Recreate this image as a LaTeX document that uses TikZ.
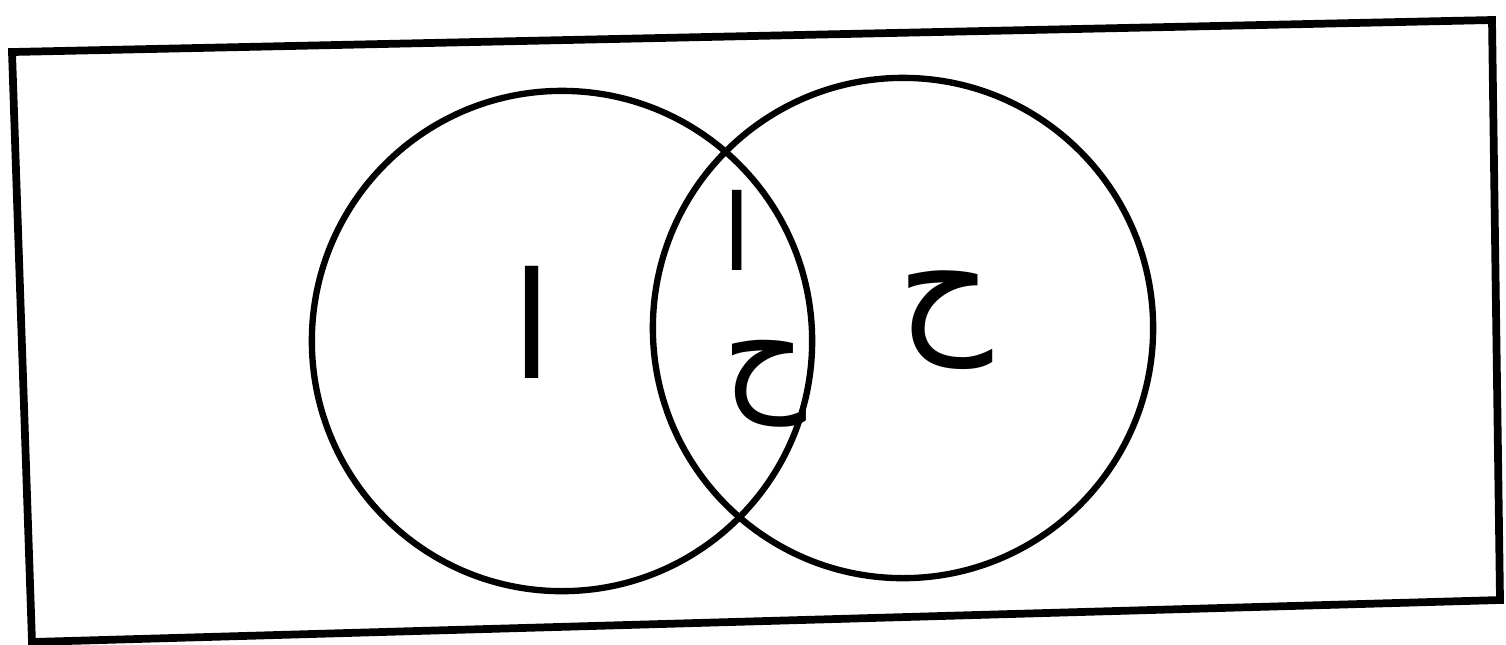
\documentclass[tikz,border=0pt]{standalone}
\usepackage{fontspec}
\newfontfamily\arabicfont[Script=Arabic]{DejaVu Sans}
\TeXXeTstate=1
\tikzset{
  setcircle/.style={draw, circle, line width=1.8pt, minimum size=5cm, inner sep=0pt},
  setlabel/.style={font=\arabicfont\fontsize{#1}{#1}\selectfont, inner sep=0pt},
  setlabel/.default=42
}
\begin{document}
\begin{tikzpicture}[x=0.01cm,y=-0.01cm]
\useasboundingbox (0,0) rectangle (1506,644);
\draw[line width=2.2pt] (12,52) -- (1492,20) -- (1500,600) -- (32,642) -- cycle;
\node[setcircle] (a) at (562,341) {};
\node[setcircle] (b) at (903,328) {};
\node[setlabel] (la) at (532,322) {\beginR ا\endR};
\node[setlabel=30, text depth=0pt] (lab1) at (737,230) {\beginR ا\endR};
\node[setlabel=37] (lab2) at (764,384) {\beginR ح\endR};
\node[setlabel] (lb) at (945,320) {\beginR ح\endR};
\end{tikzpicture}
\end{document}
